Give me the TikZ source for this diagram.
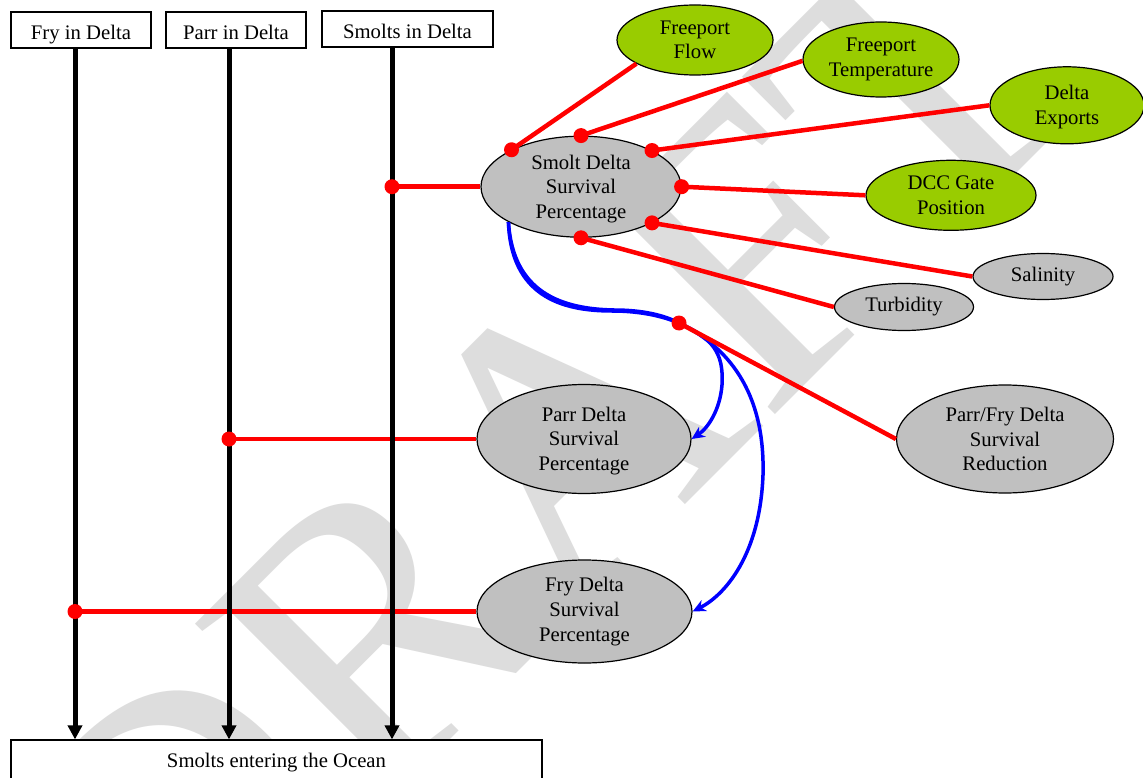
\documentclass[tikz,border=0pt]{standalone}
\usepackage{fontspec}
\setmainfont{Liberation Serif}
\usetikzlibrary{shapes.geometric,arrows.meta}
\definecolor{ngreen}{HTML}{99CC00}
\definecolor{ngray}{HTML}{C0C0C0}
\definecolor{wmark}{HTML}{DDDDDD}
\definecolor{nred}{HTML}{FF0000}
\definecolor{nblue}{HTML}{0000FF}
\begin{document}
\begin{tikzpicture}[x=1pt,y=-1pt,
  every node/.style={font=\fontsize{20.7}{24.6}\selectfont},
  box/.style={draw=black,line width=1.2pt,fill=white,inner sep=0pt},
  topbox/.style={box,minimum height=36pt,text height=21pt,text depth=2.5pt},
  ell/.style={ellipse,draw=black,line width=1.2pt,inner sep=0pt,align=center},
  gell/.style={ell,fill=ngreen},
  sell/.style={ell,fill=ngray},
  rline/.style={draw=nred,line width=4.5pt},
  bline/.style={draw=black,line width=5pt,-{Triangle[length=14pt,width=14pt]}},
  blueline/.style={draw=nblue,line width=3.5pt,-{Stealth[length=13pt,width=12pt,inset=4pt]}},
  rdot/.style={fill=nred}]
\useasboundingbox (0,0) rectangle (1143,778);
\fill[white] (0,0) rectangle (1143,778);
% watermark
\node[rotate=45,inner sep=0pt,text=wmark,font=\fontsize{400}{400}\selectfont] (wm) at (539,465) {DRAFT};
% top boxes
\node[topbox,minimum width=140pt] (fryb) at (81,30) {Fry in Delta};
\node[topbox,minimum width=140pt] (parrb) at (236,30) {Parr in Delta};
\node[topbox,minimum width=171pt] (smoltb) at (407.5,29) {Smolts in Delta};
\node[box,minimum width=531pt,minimum height=46pt,text height=14pt,text depth=6pt] (ocean) at (276.5,763) {Smolts entering the Ocean};
% ellipses
\node[gell,minimum width=156pt,minimum height=70pt] (ff) at (695,40) {Freeport\\Flow};
\node[gell,minimum width=156pt,minimum height=75pt] (ft) at (881,59.5) {Freeport\\Temperature};
\node[gell,minimum width=154pt,minimum height=77pt,text depth=1.5pt] (de) at (1067,105.3) {Delta\\Exports};
\node[sell,minimum width=200pt,minimum height=101pt,text depth=-2.5pt] (smolt) at (581,186.7) {Smolt Delta\\Survival\\Percentage};
\node[gell,minimum width=170pt,minimum height=70pt,text depth=-2pt] (dcc) at (951,195.3) {DCC Gate\\Position};
\node[sell,minimum width=140pt,minimum height=46pt] (sal) at (1043,276.5) {Salinity};
\node[sell,minimum width=139pt,minimum height=47pt] (turb) at (904,307) {Turbidity};
\node[sell,minimum width=217pt,minimum height=108pt] (red) at (1005,439) {Parr/Fry Delta\\Survival\\Reduction};
\node[sell,minimum width=214pt,minimum height=109pt,text depth=0.5pt] (parr) at (584,439) {Parr Delta\\Survival\\Percentage};
\node[sell,minimum width=215pt,minimum height=103pt] (fry) at (584.5,611.5) {Fry Delta\\Survival\\Percentage};
% helper coordinates
\coordinate (fx) at (75,0);
\coordinate (px) at (229,0);
\coordinate (sx) at (392,0);
\coordinate (mid) at (679,323);
% red links
\draw[rline] (fry.west) -- (fry.west -| fx);
\draw[rline] (parr.west) -- (parr.west -| px);
\draw[rline] (smolt.west) -- (smolt.west -| sx);
% black flows
\draw[bline] (fryb.south -| fx) -- (ocean.north -| fx);
\draw[bline] (parrb.south -| px) -- (ocean.north -| px);
\draw[bline] (smoltb.south -| sx) -- (ocean.north -| sx);
% blue curves
\draw[blueline] (smolt.206.6) .. controls (511,295) and (560,311) .. (612,311)
   .. controls (640,311) and (662,316) .. (mid)
   .. controls (712,338) and (724,352) .. (722,385)
   .. controls (720,410) and (708,428) .. (parr.east);
\draw[blueline] (smolt.206.6) .. controls (513,293) and (562,309) .. (614,310)
   .. controls (642,310) and (664,315) .. (mid)
   .. controls (735,350) and (765,400) .. (763,475)
   .. controls (760,555) and (725,595) .. (fry.east);
% red influence lines
\draw[rline] (smolt.152.8) -- (ff.202.8);
\draw[rline] (smolt.north) -- (ft.181);
\draw[rline] (smolt.27.2) -- (de.west);
\draw[rline] (smolt.east) -- (dcc.west);
\draw[rline] (smolt.-27.2) -- (sal.west);
\draw[rline] (smolt.south) -- (turb.west);
\draw[rline] (mid) -- (red.west);
% dots
\foreach \p in {smolt.152.8,smolt.north,smolt.27.2,smolt.east,smolt.-27.2,smolt.south,mid}
  \fill[rdot] (\p) circle[radius=7.5pt];
\fill[rdot] (smolt.west -| sx) circle[radius=7.5pt];
\fill[rdot] (parr.west -| px) circle[radius=7.5pt];
\fill[rdot] (fry.west -| fx) circle[radius=7.5pt];
\end{tikzpicture}
\end{document}
